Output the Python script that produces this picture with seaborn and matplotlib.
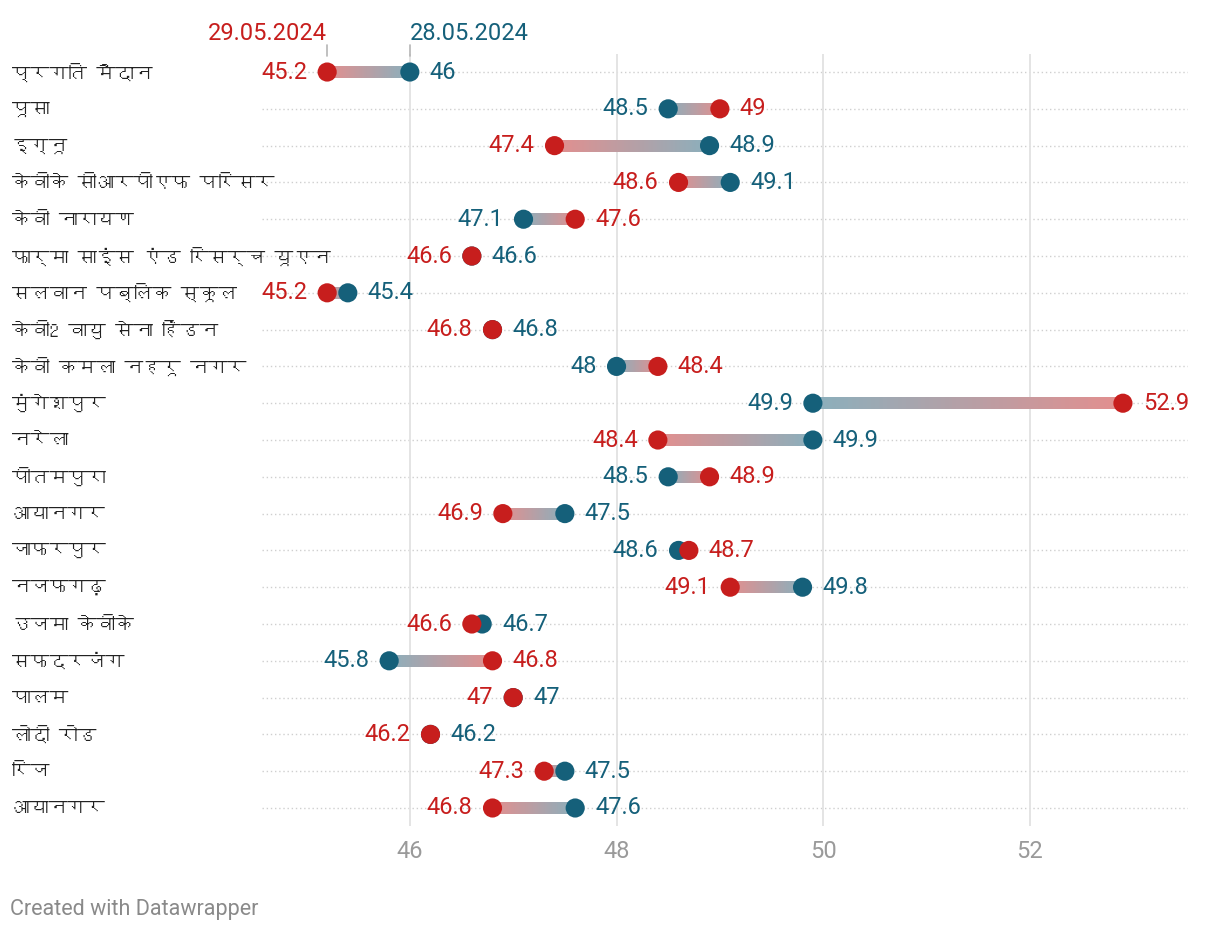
import matplotlib
matplotlib.use("Agg")
import matplotlib.pyplot as plt
import matplotlib.transforms as mtransforms
import numpy as np
import pandas as pd
import seaborn as sns
from matplotlib import font_manager as fm
from matplotlib.collections import LineCollection
from matplotlib.colors import to_rgb
from matplotlib.ft2font import FT2Font

# data: max temperature per station, 29.05.2024 (red) vs 28.05.2024 (blue)
stations = [
    "प्रगति मैदान", "पूसा", "इग्नू", "केवीके सीआरपीएफ परिसर", "केवी नारायण",
    "फार्मा साइंस एंड रिसर्च यूएन", "सलवान पब्लिक स्कूल", "केवी2 वायु सेना हिंडन",
    "केवी कमला नहरू नगर", "मुंगेशपुर", "नरेला", "पीतमपुरा", "आयानगर", "जाफरपुर",
    "नजफगढ़", "उजमा केवीके", "सफदरजंग", "पालम", "लोदी रोड", "रिज", "आयानगर",
]
may29 = [45.2, 49, 47.4, 48.6, 47.6, 46.6, 45.2, 46.8, 48.4, 52.9, 48.4,
         48.9, 46.9, 48.7, 49.1, 46.6, 46.8, 47, 46.2, 47.3, 46.8]
may28 = [46, 48.5, 48.9, 49.1, 47.1, 46.6, 45.4, 46.8, 48, 49.9, 49.9,
         48.5, 47.5, 48.6, 49.8, 46.7, 45.8, 47, 46.2, 47.5, 47.6]
date_red = "29.05.2024"
date_blue = "28.05.2024"
x_ticks = [46, 48, 50, 52]
footer = "Created with Datawrapper"

RED = "#c71e1d"
BLUE = "#15607a"


def find_devanagari():
    # pick an installed font that actually has Devanagari glyphs
    seen = set()
    for f in fm.fontManager.ttflist:
        if f.name in seen:
            continue
        seen.add(f.name)
        try:
            cmap = FT2Font(f.fname).get_charmap()
        except Exception:
            continue
        if 0x092A in cmap and 0x093F in cmap:
            return f.name
    return None


sns.set_theme(style="white")
deva = find_devanagari()
num_family = ["Roboto", "DejaVu Sans"]
hindi_family = [deva, "Roboto", "DejaVu Sans"] if deva else num_family
plt.rcParams["font.family"] = num_family

n = len(stations)
df = pd.DataFrame({"station": stations, "row": np.arange(n), "may29": may29, "may28": may28})
long = df.melt(id_vars=["station", "row"], value_vars=["may28", "may29"],
               var_name="date", value_name="temp")

fig = plt.figure(figsize=(12.2, 9.36), dpi=100)
ax = fig.add_axes([0.2148, 0.1171, 0.759, 0.8256])

# dotted row guides
for r in df["row"]:
    ax.axhline(r, color="#cfcfcf", lw=1, ls=(0, (1, 2)), zorder=0)

# gradient connectors
light_red = np.array(to_rgb(RED)) * 0.5 + 0.5
light_blue = np.array(to_rgb(BLUE)) * 0.5 + 0.5
segs, cols = [], []
steps = 80
for _, d in df.iterrows():
    if d["may29"] == d["may28"]:
        continue
    xs = np.linspace(d["may29"], d["may28"], steps + 1)
    for i in range(steps):
        t = (i + 0.5) / steps
        segs.append([(xs[i], d["row"]), (xs[i + 1], d["row"])])
        cols.append(light_red * (1 - t) + light_blue * t)
ax.add_collection(LineCollection(segs, colors=cols, linewidths=8.5, capstyle="butt",
                                 antialiaseds=False, zorder=2))

sns.scatterplot(data=long, x="temp", y="row", hue="date",
                palette={"may28": BLUE, "may29": RED}, s=190, linewidth=0,
                legend=False, ax=ax, zorder=3)

# value labels: lower value left, higher value right
off = 14.4
for _, d in df.iterrows():
    r, red_v, blue_v = d["row"], d["may29"], d["may28"]
    if red_v <= blue_v:
        left, right = (red_v, RED), (blue_v, BLUE)
    else:
        left, right = (blue_v, BLUE), (red_v, RED)
    ax.annotate(f"{left[0]:g}", (left[0], r), xytext=(-off, 0), textcoords="offset points",
                ha="right", va="center", color=left[1], fontsize=17)
    ax.annotate(f"{right[0]:g}", (right[0], r), xytext=(off, 0), textcoords="offset points",
                ha="left", va="center", color=right[1], fontsize=17)

# station names at the far left
trans = mtransforms.blended_transform_factory(fig.transFigure, ax.transData)
for _, d in df.iterrows():
    ax.text(12 / 1220, d["row"], d["station"], transform=trans, ha="left", va="center",
            fontsize=13.5, color="#222222", family=hindi_family)

# header date labels with small ticks above first row
for v, lab, c, ha in [(may29[0], date_red, RED, "right"), (may28[0], date_blue, BLUE, "left")]:
    ax.plot([v, v], [-0.74, -0.43], color="#b5b5b5", lw=1.2, clip_on=False, zorder=1)
    ax.text(v, -1.06, lab, ha=ha, va="center", color=c, fontsize=17, clip_on=False)

ax.set_xlim(44.57, 53.53)
ax.set_ylim(n - 0.5, -0.5)
ax.set_xticks(x_ticks)
ax.set_xticklabels([str(t) for t in x_ticks])
ax.set_yticks([])
ax.set_xlabel("")
ax.set_ylabel("")
ax.grid(axis="x", color="#e2e2e2", lw=1.3, zorder=0)
ax.set_axisbelow(True)
ax.tick_params(axis="x", length=0, pad=10, labelsize=17, labelcolor="#9a9a9a")
sns.despine(ax=ax, left=True, bottom=True)

fig.text(10 / 1220, 1 - 910 / 936, footer, ha="left", va="center", color="#8a8a8a", fontsize=15.5)

fig.savefig("out.png", dpi=100, facecolor="white")
